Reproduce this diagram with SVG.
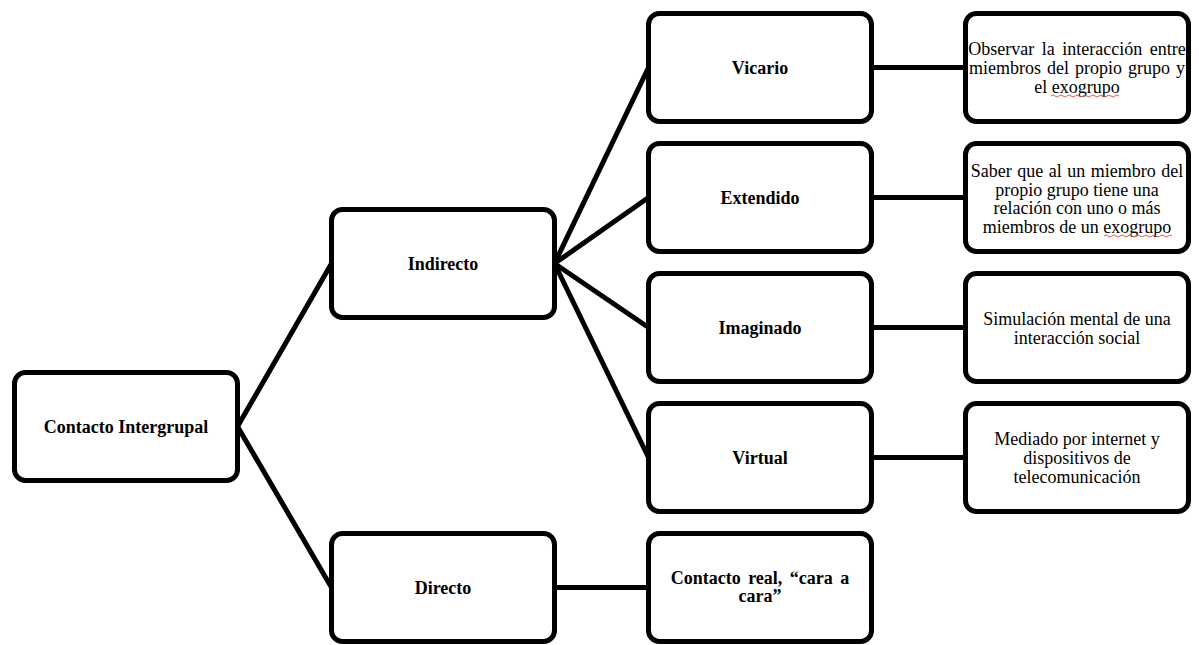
<svg xmlns="http://www.w3.org/2000/svg" width="1199" height="645" viewBox="0 0 1199 645">
<style>
.box{fill:#fff;stroke:#000;stroke-width:5}
.con{stroke:#000;stroke-width:5;fill:none}
.lb{font-family:"Liberation Serif","Times New Roman",serif;font-size:18px;font-weight:bold;fill:#000;text-anchor:middle}
.ds{font-family:"Liberation Serif","Times New Roman",serif;font-size:18px;fill:#000;text-anchor:middle}
.sq{stroke:#e05a5a;stroke-width:1;fill:none}
</style>
<rect width="1199" height="645" fill="#fff"/>
<g id="connectors">
<line class="con" x1="237.5" y1="426.5" x2="331.5" y2="263.5"/>
<line class="con" x1="237.5" y1="426.5" x2="331.5" y2="587.5"/>
<line class="con" x1="554.5" y1="263.5" x2="648.5" y2="67.5"/>
<line class="con" x1="554.5" y1="263.5" x2="648.5" y2="197.5"/>
<line class="con" x1="554.5" y1="263.5" x2="648.5" y2="327.5"/>
<line class="con" x1="554.5" y1="263.5" x2="648.5" y2="457.5"/>
<line class="con" x1="554.5" y1="587.5" x2="648.5" y2="587.5"/>
<line class="con" x1="871.5" y1="67.5" x2="965.5" y2="67.5"/>
<line class="con" x1="871.5" y1="197.5" x2="965.5" y2="197.5"/>
<line class="con" x1="871.5" y1="327.5" x2="965.5" y2="327.5"/>
<line class="con" x1="871.5" y1="457.5" x2="965.5" y2="457.5"/>
</g>
<g id="contacto-intergrupal">
<rect class="box" x="14.5" y="372.5" width="223" height="108" rx="11"/>
<text class="lb" x="126" y="432.5">Contacto Intergrupal</text>
</g>
<g id="indirecto">
<rect class="box" x="331.5" y="209.5" width="223" height="108" rx="11"/>
<text class="lb" x="443" y="269.5">Indirecto</text>
</g>
<g id="directo">
<rect class="box" x="331.5" y="533.5" width="223" height="108" rx="11"/>
<text class="lb" x="443" y="593.5">Directo</text>
</g>
<g id="vicario">
<rect class="box" x="648.5" y="13.5" width="223" height="108" rx="11"/>
<text class="lb" x="760" y="73.5">Vicario</text>
</g>
<g id="extendido">
<rect class="box" x="648.5" y="143.5" width="223" height="108" rx="11"/>
<text class="lb" x="760" y="203.5">Extendido</text>
</g>
<g id="imaginado">
<rect class="box" x="648.5" y="273.5" width="223" height="108" rx="11"/>
<text class="lb" x="760" y="333.5">Imaginado</text>
</g>
<g id="virtual">
<rect class="box" x="648.5" y="403.5" width="223" height="108" rx="11"/>
<text class="lb" x="760" y="463.5">Virtual</text>
</g>
<g id="contacto-real">
<rect class="box" x="648.5" y="533.5" width="223" height="108" rx="11"/>
<text class="lb" x="760" y="584" word-spacing="3">Contacto real, “cara a</text>
<text class="lb" x="760" y="602">cara”</text>
</g>
<g id="desc-vicario">
<rect class="box" x="965.5" y="13.5" width="223" height="108" rx="11"/>
<text class="ds" x="1077" y="55" word-spacing="3">Observar la interacción entre</text>
<text class="ds" x="1077" y="74" word-spacing="1.5">miembros del propio grupo y</text>
<text class="ds" x="1077" y="93">el exogrupo</text>
<path class="sq" d="M1051 96 q2 -2 4 0 t4 0 t4 0 t4 0 t4 0 t4 0 t4 0 t4 0 t4 0 t4 0 t4 0 t4 0 t4 0 t4 0 t4 0 t4 0 t4 0"/>
</g>
<g id="desc-extendido">
<rect class="box" x="965.5" y="143.5" width="223" height="108" rx="11"/>
<text class="ds" x="1077" y="176.5" word-spacing="1">Saber que al un miembro del</text>
<text class="ds" x="1077" y="195.5">propio grupo tiene una</text>
<text class="ds" x="1077" y="214">relación con uno o más</text>
<text class="ds" x="1077" y="233">miembros de un exogrupo</text>
<path class="sq" d="M1104 236 q2 -2 4 0 t4 0 t4 0 t4 0 t4 0 t4 0 t4 0 t4 0 t4 0 t4 0 t4 0 t4 0 t4 0 t4 0 t4 0 t4 0 t4 0"/>
</g>
<g id="desc-imaginado">
<rect class="box" x="965.5" y="273.5" width="223" height="108" rx="11"/>
<text class="ds" x="1077" y="325">Simulación mental de una</text>
<text class="ds" x="1077" y="344">interacción social</text>
</g>
<g id="desc-virtual">
<rect class="box" x="965.5" y="403.5" width="223" height="108" rx="11"/>
<text class="ds" x="1077" y="445">Mediado por internet y</text>
<text class="ds" x="1077" y="464">dispositivos de</text>
<text class="ds" x="1077" y="483">telecomunicación</text>
</g>
</svg>
